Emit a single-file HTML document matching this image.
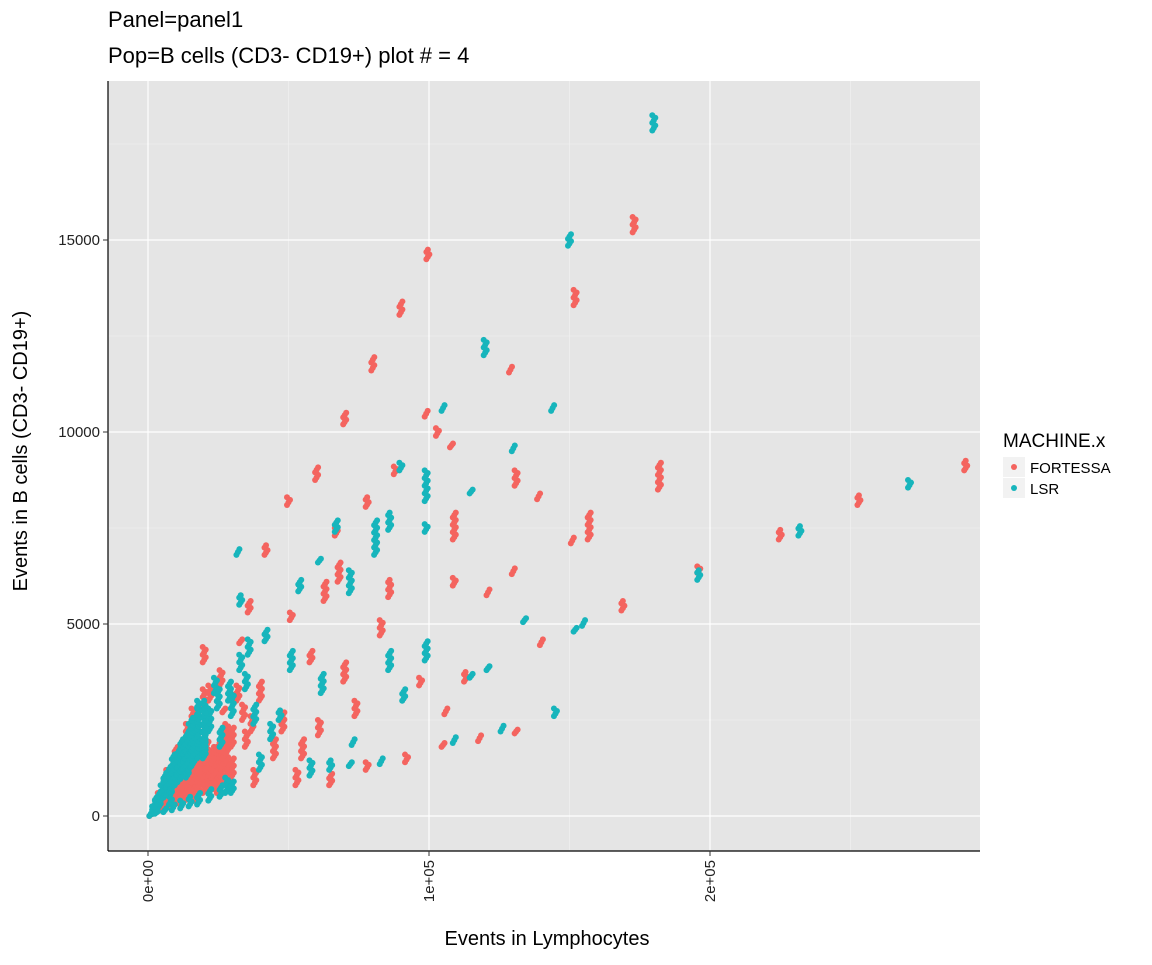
<!DOCTYPE html>
<html><head><meta charset="utf-8"><style>
body{margin:0;background:#fff;font-family:"Liberation Sans",Arial,sans-serif}
</style></head><body>
<svg id="chart" width="1152" height="960" xmlns="http://www.w3.org/2000/svg" font-family="Liberation Sans, Arial, sans-serif">
<defs><clipPath id="pc"><rect x="108" y="81" width="872" height="770"/></clipPath></defs>
<text x="108" y="27" font-size="22" fill="#000">Panel=panel1</text>
<text x="108" y="63" font-size="22" fill="#000">Pop=B cells (CD3- CD19+) plot # = 4</text>
<rect x="108" y="81" width="872" height="770" fill="#e5e5e5"/>
<g id="grid" clip-path="url(#pc)"></g>
<g id="points" clip-path="url(#pc)"></g>
<line x1="108" y1="851" x2="980" y2="851" stroke="#000" stroke-width="1.2"/>
<line x1="108" y1="81" x2="108" y2="851" stroke="#000" stroke-width="1.2"/>
<g id="ticks"></g>
<text x="547" y="945" font-size="20" text-anchor="middle">Events in Lymphocytes</text>
<text transform="translate(27,451) rotate(-90)" font-size="20" text-anchor="middle">Events in B cells (CD3- CD19+)</text>
<text x="1003" y="447" font-size="19">MACHINE.x</text>
<g>
<rect x="1003" y="457" width="22" height="20" fill="#f2f2f2"/><circle cx="1014" cy="467" r="3" fill="#F4645F"/>
<text x="1030" y="473" font-size="15">FORTESSA</text></g>
<g>
<rect x="1003" y="478" width="22" height="20" fill="#f2f2f2"/><circle cx="1014" cy="488" r="3" fill="#17B5BC"/>
<text x="1030" y="494" font-size="15">LSR</text></g>
</svg>
<script>
// x in thousands of events, [x, yLow, yHigh]
const fortessaClusters=[[99.6,14500,14750],[90,13050,13400],[80,11600,11950],[70,10200,10500],[60,8750,9080],[50,8100,8300],[173,15200,15600],[152,13300,13700],[182,8500,9200],[291,9000,9250],[253,8100,8350],[225,7200,7450],[196,6330,6500],[169,5350,5600],[157,7200,7900],[151,7100,7250],[140,4450,4600],[139,8250,8400],[131,8600,9000],[129,11550,11700],[130,6300,6450],[131,2150,2250],[118,1950,2100],[121,5750,5900],[113,3500,3750],[106,2650,2800],[105,1800,1900],[109,7200,7900],[109,6000,6200],[103,9900,10100],[108,9600,9700],[97,3400,3600],[99,10400,10550],[92,1400,1600],[86,5700,6150],[88,8900,9100],[78,1200,1400],[83,4700,5100],[78,8050,8300],[74,2600,3000],[68,6100,6600],[67,7300,7500],[61,2100,2500],[63,5600,6100],[58,4000,4300],[53,800,1200],[51,5100,5300],[42,6800,7050],[40,3000,3500],[33,4500,4600],[27,2700,2800],[20,4000,4400],[20,2900,3300],[45,1500,2000],[48,2200,2700],[35,1800,2200],[38,800,1200],[30,1000,1500],[28,2000,2400],[25,600,1000],[24,1400,1800],[22,3000,3400],[18,1200,1600],[17,400,800],[15,900,1300],[14,2000,2400],[12,300,700],[11,900,1300],[10,1500,1800],[9,200,500],[8,600,900],[7,1000,1200],[6,300,600],[5,150,400],[4,400,600],[3,100,300],[2,50,200],[1,0,100],[55,1500,2000],[65,800,1100],[70,3500,4000],[32,3000,3400],[26,3400,3800],[16,2400,2800],[36,5300,5600],
[2,60,160],[3,90,240],[4,120,320],[5,150,400],[6,180,480],[7,200,560],[8,240,640],[9,270,720],[10,300,800],[11,330,880],[12,360,960],[13,390,1040],[14,420,1120],[15,450,1200],[16,480,1280],[17,510,1360],[18,540,1440],[20,600,1600],[22,660,1700],[24,700,1800],[26,750,1900],[28,800,2000],[4,320,480],[6,480,720],[8,640,960],[10,800,1200],[12,960,1400],[14,1100,1600],[19,900,1700],[21,1200,2000],[23,1000,1500],[27,1300,1700],[30,1800,2300],[34,2500,2900],[37,2200,2600]];
const lsrClusters=[[180,17850,18250],[150,14850,15150],[120,12000,12400],[144,10550,10700],[130,9500,9650],[115,8400,8500],[105,10550,10700],[99,8200,9000],[99,7400,7600],[90,9000,9200],[86,7450,7900],[81,6800,7700],[67,7400,7700],[72,5800,6400],[61,6600,6700],[54,5850,6150],[42,4550,4850],[32,6800,6950],[33,5500,5750],[196,6150,6400],[232,7300,7550],[271,8550,8750],[155,4950,5100],[152,4800,4900],[145,2600,2800],[126,2200,2350],[121,3800,3900],[134,5050,5150],[109,1900,2050],[115,3600,3700],[99,4050,4550],[91,3000,3300],[86,3800,4300],[73,1850,2000],[83,1350,1500],[72,1300,1400],[65,1200,1450],[58,1050,1450],[51,3800,4300],[47,2500,2750],[44,2000,2400],[38,2400,2900],[35,3300,3700],[30,2600,3200],[26,1800,2300],[24,3200,3600],[22,2200,2800],[20,1500,2000],[18,2600,3000],[16,1800,2300],[14,1000,1500],[12,1500,2000],[10,800,1300],[9,1300,1600],[8,300,700],[7,700,1000],[6,800,1100],[5,400,700],[4,200,500],[3,200,400],[2,50,250],[1,0,120],[28,600,1000],[62,3200,3700],[40,1200,1600],
[2,160,320],[3,240,480],[4,320,640],[5,400,800],[6,480,960],[7,560,1120],[8,640,1280],[9,720,1440],[10,800,1600],[11,880,1760],[12,960,1900],[13,1040,2000],[14,1120,2200],[15,1200,2400],[16,1300,2560],[18,1500,2900],[20,1600,3000],[3,60,120],[6,100,200],[9,150,300],[12,200,400],[15,250,500],[18,300,600],[22,400,700],[26,500,800],[30,600,900],[25,2800,3300],[29,3000,3500],[33,3800,4200],[36,4200,4600]];
const xTicks=[0,100,200];
const xTickLabels=["0e+00","1e+05","2e+05"];
const yTicks=[0,5000,10000,15000];
const yTickLabels=["0","5000","10000","15000"];
const NS="http://www.w3.org/2000/svg";
const X=v=>148+v*2.81;
const Y=v=>816-v*0.0384;
const grid=document.getElementById('grid'),pts=document.getElementById('points'),tk=document.getElementById('ticks');
function ln(p,x1,y1,x2,y2,w,c){const l=document.createElementNS(NS,'line');l.setAttribute('x1',x1);l.setAttribute('y1',y1);l.setAttribute('x2',x2);l.setAttribute('y2',y2);l.setAttribute('stroke',c);l.setAttribute('stroke-width',w);p.appendChild(l);return l;}
[2500,7500,12500,17500].forEach(v=>{const l=ln(grid,108,Y(v),980,Y(v),0.6,'#f2f2f2');

});
[50,150,250].forEach(v=>{const l=ln(grid,X(v),81,X(v),851,0.6,'#f2f2f2');

});
yTicks.forEach((v,i)=>{const l=ln(grid,108,Y(v),980,Y(v),1.2,'#fff');


ln(tk,103,Y(v),108,Y(v),1,'#333');
const t=document.createElementNS(NS,'text');t.setAttribute('x',100);t.setAttribute('y',Y(v)+5);t.setAttribute('text-anchor','end');t.setAttribute('font-size','15');t.setAttribute('fill','#222');t.textContent=yTickLabels[i];


tk.appendChild(t);});
xTicks.forEach((v,i)=>{const l=ln(grid,X(v),81,X(v),851,1.2,'#fff');


ln(tk,X(v),851,X(v),856,1,'#333');
const t=document.createElementNS(NS,'text');t.setAttribute('transform',`translate(${X(v)+5},860) rotate(-90)`);t.setAttribute('text-anchor','end');t.setAttribute('font-size','15');t.setAttribute('fill','#222');t.textContent=xTickLabels[i];


tk.appendChild(t);});
function draw(cl,color,name){cl.forEach(c=>{const g=document.createElementNS(NS,'g');


const y1=Y(c[1]),y2=Y(c[2]);const n=Math.max(3,Math.round((y1-y2)/2.5)+1);
for(let k=0;k<n;k++){const ci=document.createElementNS(NS,'circle');ci.setAttribute('cx',X(c[0])+((k%3)-1)*1.5);ci.setAttribute('cy',y1+(y2-y1)*k/(n-1));ci.setAttribute('r',3);ci.setAttribute('fill',color);g.appendChild(ci);}
pts.appendChild(g);});}
draw(fortessaClusters,'#F4645F','fortessa-point-cluster');
draw(lsrClusters,'#17B5BC','lsr-point-cluster');
</script>
</body></html>
